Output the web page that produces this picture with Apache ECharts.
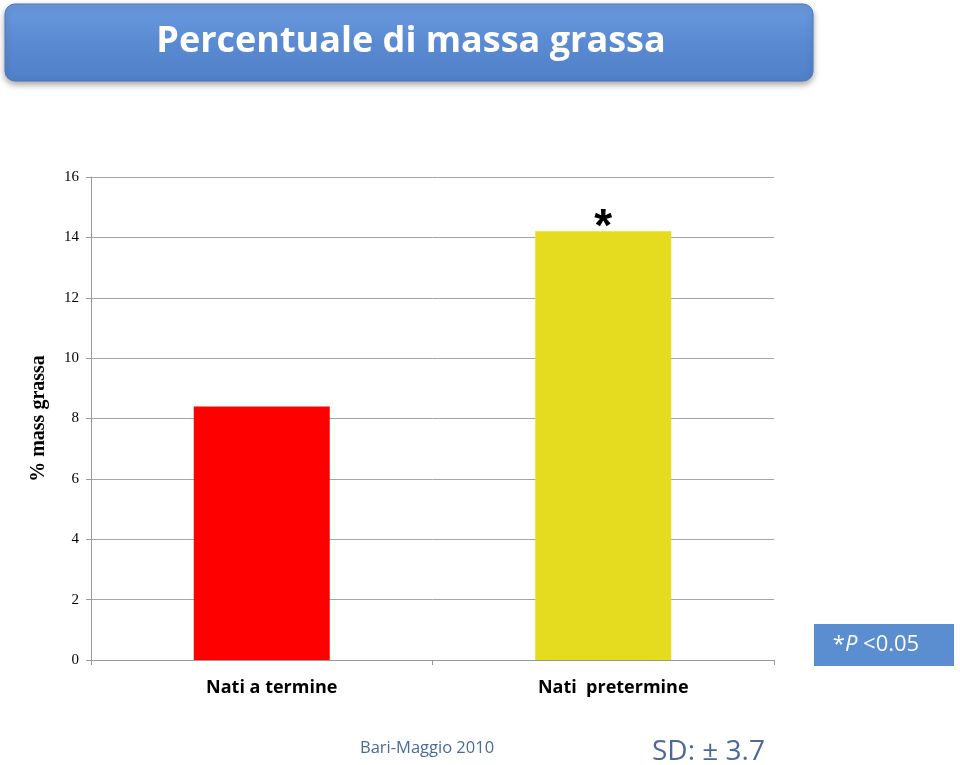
<!DOCTYPE html>
<html>
<head>
<meta charset="utf-8">
<script src="https://cdn.jsdelivr.net/npm/echarts@6/dist/echarts.min.js"></script>
<style>html,body{margin:0;padding:0;background:#fff;}#c{width:960px;height:765px;}</style>
</head>
<body>
<div id="c"></div>
<script>
const categories = ['Nati a termine', 'Nati  pretermine'];
const values = [8.4, 14.2];
const barColors = ['#ff0000', '#e6dc1f'];
const significance = ['', '*'];
const yTicks = [0, 2, 4, 6, 8, 10, 12, 14, 16];

const chart = echarts.init(document.getElementById('c'));
chart.setOption({
  backgroundColor: '#ffffff',
  animation: false,
  grid: { left: 91, right: 186, top: 177, bottom: 105 },
  xAxis: {
    type: 'category',
    data: categories,
    axisLine: { lineStyle: { color: '#999', width: 1 } },
    axisTick: { show: true, length: 5, lineStyle: { color: '#999' } },
    axisLabel: {
      margin: 19,
      color: '#000',
      fontFamily: 'Open Sans',
      fontWeight: 'bold',
      fontSize: 18,
      padding: [0, 0, 0, 20]
    }
  },
  yAxis: {
    type: 'value',
    min: yTicks[0],
    max: yTicks[yTicks.length - 1],
    interval: 2,
    name: '% mass grassa',
    nameLocation: 'middle',
    nameGap: 42,
    nameRotate: 90,
    nameTextStyle: { fontFamily: 'Liberation Serif', fontWeight: 'bold', fontSize: 20, color: '#000' },
    axisLine: { show: true, lineStyle: { color: '#999' } },
    axisTick: { show: true, length: 5, lineStyle: { color: '#999' } },
    axisLabel: { margin: 12, color: '#000', fontFamily: 'Liberation Serif', fontSize: 15 },
    splitLine: { show: true, lineStyle: { color: '#a6a6a6', width: 1 } }
  },
  series: [{
    type: 'bar',
    barWidth: 136,
    data: values.map((v, i) => ({
      value: v,
      itemStyle: { color: barColors[i] },
      label: {
        show: significance[i] !== '',
        position: 'top',
        distance: -20,
        formatter: significance[i],
        fontSize: 46,
        fontWeight: 'bold',
        fontFamily: 'Liberation Sans',
        color: '#000'
      }
    }))
  }],
  graphic: [
    {
      type: 'rect',
      shape: { x: 5, y: 4, width: 808, height: 77, r: 10 },
      style: {
        fill: new echarts.graphic.LinearGradient(0, 0, 0, 1, [
          { offset: 0, color: '#6a9ade' },
          { offset: 0.5, color: '#5a8bd2' },
          { offset: 1, color: '#4f80c8' }
        ]),
        stroke: '#4a78bb',
        lineWidth: 1,
        shadowBlur: 6,
        shadowOffsetY: 3,
        shadowColor: 'rgba(0,0,0,0.35)'
      }
    },
    {
      type: 'text',
      position: [411, 42],
      style: {
        text: 'Percentuale di massa grassa',
        fill: '#ffffff',
        font: 'bold 36px "Open Sans"',
        align: 'center',
        verticalAlign: 'middle'
      }
    },
    {
      type: 'rect',
      shape: { x: 814, y: 624, width: 140, height: 42 },
      style: { fill: '#5b8dd1' }
    },
    {
      type: 'text',
      position: [876, 645],
      style: {
        text: '{a|*}{b|P}{a| <0.05}',
        align: 'center',
        verticalAlign: 'middle',
        rich: {
          a: { fill: '#ffffff', font: '22px "Open Sans"' },
          b: { fill: '#ffffff', font: 'italic 22px "Open Sans"' }
        }
      }
    },
    {
      type: 'text',
      position: [360, 748],
      style: { text: 'Bari-Maggio 2010', fill: '#4a6a9c', font: '16.5px "Open Sans"', verticalAlign: 'middle' }
    },
    {
      type: 'text',
      position: [652, 752],
      style: { text: 'SD: \u00B1 3.7', fill: '#4a6a9c', font: '28px "Open Sans"', verticalAlign: 'middle' }
    }
  ]
});
</script>
</body>
</html>
